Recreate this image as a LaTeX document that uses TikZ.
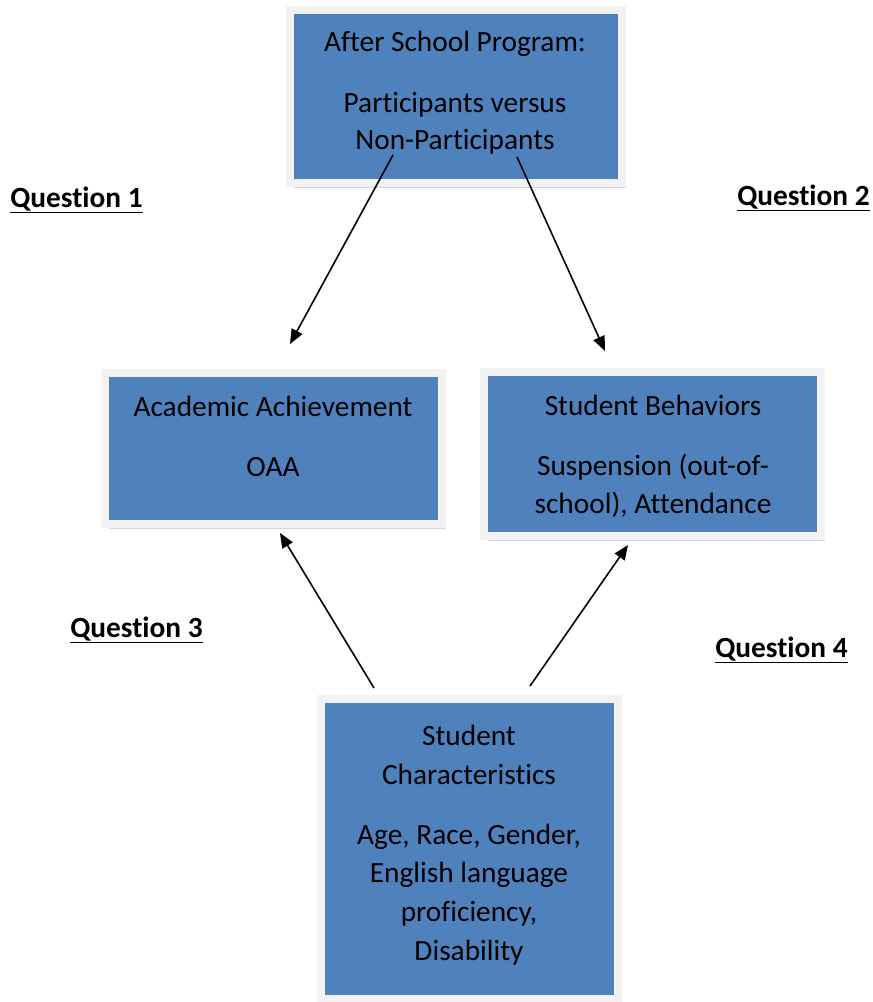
\documentclass[tikz,border=0pt]{standalone}
\usepackage{fontspec}
\setmainfont{Carlito}[Ligatures={NoCommon}]
\usetikzlibrary{arrows.meta,shadows}
\definecolor{boxblue}{RGB}{79,129,189}
\definecolor{framegray}{RGB}{242,242,242}
\tikzset{
  box/.style={rectangle, fill=boxblue, draw=framegray, line width=6pt,
    drop shadow={shadow xshift=3pt, shadow yshift=-4pt, opacity=0.3, fill=black!55}},
  boxtext/.style={anchor=base, align=center, inner sep=0pt, text=black,
    font=\fontsize{22}{28}\selectfont},
  qlabel/.style={anchor=base west, inner sep=0pt, font=\fontsize{22}{26}\selectfont\bfseries},
  conn/.style={line width=1.2pt, -{Triangle[length=11pt,width=9pt]}}
}
\begin{document}
\begin{tikzpicture}[x=0.75pt,y=-0.75pt]
\useasboundingbox (0,0) rectangle (872,1002);
% boxes
\node[box, minimum width=249pt, minimum height=129pt] (top) at (455.5,96.5) {};
\node[box, minimum width=252.75pt, minimum height=113.25pt] (left) at (273.5,448.5) {};
\node[box, minimum width=252.75pt, minimum height=123pt] (right) at (652.5,453.5) {};
\node[box, minimum width=222.75pt, minimum height=225pt] (bottom) at (469,848.5) {};
% texts (anchored at the baseline of the last line)
\node[boxtext] (toptext) at (455,150) {After School Program:\\[18pt]Participants versus\\Non-Participants};
\node[boxtext] (lefttext) at (273,476) {Academic Achievement\\[17pt]OAA};
\node[boxtext] (righttext) at (653,513) {Student Behaviors\\[17pt]Suspension (out-of-\\school), Attendance};
\node[boxtext, font=\fontsize{22}{29}\selectfont] (bottomtext) at (469,960) {Student\\Characteristics\\[16pt]Age, Race, Gender,\\English language\\proficiency,\\Disability};
% labels
\node[qlabel] (q1) at (10,207) {\underline{Question 1}};
\node[qlabel] (q2) at (737,205) {\underline{Question 2}};
\node[qlabel] (q3) at (70,637) {\underline{Question 3}};
\node[qlabel] (q4) at (715,657) {\underline{Question 4}};
% connector endpoints
\coordinate (a1s) at (393,155);
\coordinate (a1e) at (290,344);
\coordinate (a2s) at (517,157);
\coordinate (a2e) at (605,351);
\coordinate (a3s) at (374,688);
\coordinate (a3e) at (280,533);
\coordinate (a4s) at (530,686);
\coordinate (a4e) at (628,545);
\draw[conn] (a1s) -- (a1e);
\draw[conn] (a2s) -- (a2e);
\draw[conn] (a3s) -- (a3e);
\draw[conn] (a4s) -- (a4e);
\end{tikzpicture}
\end{document}
